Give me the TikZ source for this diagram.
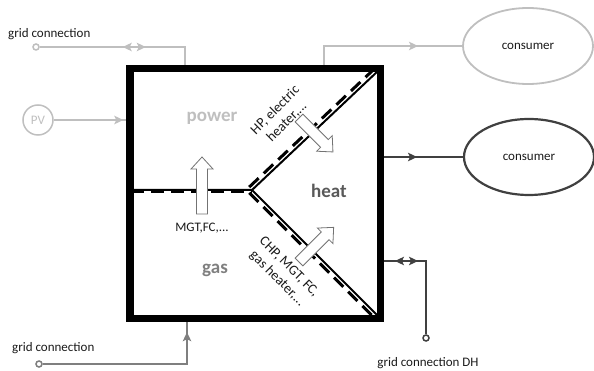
\documentclass[tikz,border=0pt]{standalone}
\usepackage{fontspec}
\setmainfont{Carlito}
\usetikzlibrary{shapes.geometric,arrows.meta,decorations.markings,calc}
\definecolor{lgray}{HTML}{BFBFBF}
\definecolor{mgray}{HTML}{7F7F7F}
\definecolor{dgray}{HTML}{404040}
\definecolor{hgray}{HTML}{595959}
\definecolor{txtc}{HTML}{1A1A1A}
\tikzset{
  conn/.style={line width=1.8pt},
  midtip/.style={postaction={decorate},decoration={markings,
     mark=at position #1 with {\arrow{Stealth[length=9pt,width=8.5pt,inset=2pt]}}}},
  dbltip/.style 2 args={postaction={decorate},decoration={markings,
     mark=at position #1 with {\arrowreversed{Stealth[length=9pt,width=8.5pt,inset=2pt]}},
     mark=at position #2 with {\arrow{Stealth[length=9pt,width=8.5pt,inset=2pt]}}}},
  gridend/.style={circle,fill=white,line width=1.5pt,minimum size=6pt,inner sep=0pt},
  txt/.style={font=\fontsize{13}{15}\selectfont,text=txtc,inner sep=0pt},
  rottxt/.style={font=\fontsize{14}{16.5}\selectfont,text=txtc,inner sep=0pt,align=center},
  region/.style={font=\bfseries\fontsize{19}{22}\selectfont,inner sep=0pt,anchor=base},
  consumer/.style={ellipse,line width=1.8pt,minimum width=130pt,minimum height=76pt,
     font=\fontsize{13}{15}\selectfont,text=txtc,inner sep=0pt},
  divline/.style={line width=2pt,black},
  dashline/.style={line width=3pt,black,dash pattern=on 13pt off 7pt},
  hollowarrow/.pic={\draw[line width=0.8pt,draw=black!55,fill=white]
     (0,-5.5) -- (#1-12,-5.5) -- (#1-12,-11) -- (#1,0) -- (#1-12,11) -- (#1-12,5.5) -- (0,5.5) -- cycle;}
}
\begin{document}
\begin{tikzpicture}[x=1pt,y=-1pt]
\useasboundingbox (0,0) rectangle (594,371);

% key points of the box
\coordinate (ml) at (131,190);
\coordinate (v) at (252,190);
\coordinate (tr) at (379,70);
\coordinate (br) at (379,317);

% dividing lines
\draw[divline] (ml) -- (v) -- (tr);
\draw[divline] (v) -- (br);
\draw[dashline] ($(ml)+(0,1.5)$) -- ($(v)+(0,1.5)$);
\draw[dashline] ($(v)+(-2.8,-2.9)$) -- ($(tr)+(-2.8,-2.9)$);
\draw[dashline] ($(v)+(-2.8,2.8)$) -- ($(br)+(-2.8,2.8)$);

% main box
\node[draw,line width=5pt,minimum width=248pt,minimum height=247pt,inner sep=0pt] (box) at (255,193.5) {};

% hollow conversion arrows
\pic[rotate=90] at (202,214) {hollowarrow=57};
\pic[rotate=-45] at (299,118) {hollowarrow=48};
\pic[rotate=45] at (299,262) {hollowarrow=49};

% region labels
\node[region,text=lgray] (power) at (212,122) {power};
\node[region,text=hgray] (heat) at (329,198) {heat};
\node[region,text=mgray] (gas) at (215,273) {gas};
\node[txt,anchor=base] (mgt) at (202,232) {MGT,FC,...};
\node[rottxt,rotate=45] (hp) at (281,116) {HP, electric\\heater,...};
\node[rottxt,rotate=-45] (chp) at (283,273) {CHP, MGT, FC,\\gas heater,...};

% top-left grid connection
\node[txt,anchor=west] (gc1) at (8,34) {grid connection};
\node[gridend,draw=lgray] (g1) at (36,47) {};
\coordinate (b1) at (185,70);
\draw[conn,lgray,dbltip={83pt}{106pt}] (g1) -| (b1);

% PV
\node[circle,draw=lgray,line width=1.5pt,minimum size=30pt,inner sep=0pt,text=lgray,
      font=\fontsize{13}{15}\selectfont] (pv) at (38,120) {PV};
\coordinate (b2) at (131,120);
\draw[conn,lgray,midtip=0.9] (pv) -- (b2);

% consumers
\node[consumer,draw=lgray] (c1) at (528,46) {consumer};
\coordinate (b3) at (324,70);
\draw[conn,lgray,midtip=118pt] (b3) |- (c1.west);

\node[consumer,draw=dgray,line width=2.2pt] (c2) at (529,157) {consumer};
\coordinate (b4) at (379,157);
\draw[conn,dgray,midtip=38pt] (b4) -- (c2.west);

% bottom-left grid connection
\node[txt,anchor=west] (gc2) at (12,348) {grid connection};
\node[gridend,draw=mgray] (g3) at (39,364) {};
\coordinate (b5) at (187,317);
\draw[conn,mgray,midtip=176pt] (g3) -| (b5);

% district heating grid connection
\node[txt] (gc3) at (428,363) {grid connection DH};
\node[gridend,draw=dgray] (g4) at (426,338) {};
\coordinate (b6) at (379,261);
\draw[conn,dgray,dbltip={16pt}{39pt}] (b6) -| (g4);

% redraw box on top of connector ends
\draw[line width=5pt] (box.north west) rectangle (box.south east);
\end{tikzpicture}
\end{document}
